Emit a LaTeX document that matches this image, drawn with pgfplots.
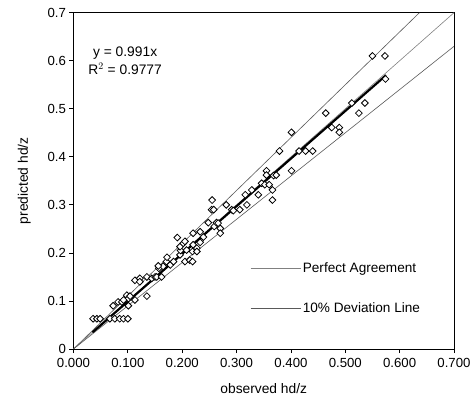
\documentclass[border=0pt]{standalone}
\usepackage{pgfplots}
\pgfplotsset{compat=1.18}
\usepackage{fontspec}
\setmainfont{Liberation Sans}
\begin{document}
\begin{tikzpicture}
\begin{axis}[
  at={(0,0)}, anchor=south west,
  scale only axis, width=380.5bp, height=336.3bp,
  xmin=0, xmax=0.7, ymin=0, ymax=0.7,
  xtick={0,0.1,...,0.7}, ytick={0,0.1,...,0.7},
  xticklabels={0.000,0.100,0.200,0.300,0.400,0.500,0.600,0.700},
  yticklabels={0,0.1,0.2,0.3,0.4,0.5,0.6,0.7},
  tick align=outside, xtick pos=bottom, ytick pos=left,
  major tick length=4bp,
  tick style={black, line width=0.8bp},
  axis line style={black, line width=0.8bp},
  tick label style={font=\fontsize{13.2bp}{15bp}\selectfont},
  xticklabel style={yshift=-2bp},
  label style={font=\fontsize{13.8bp}{16bp}\selectfont},
  xlabel={observed hd/z}, ylabel={predicted hd/z},
  xlabel style={yshift=-9bp},
  ylabel style={yshift=10bp},
  legend style={at={(0.464,0.181)}, anchor=west, draw=none, fill=none,
    inner sep=0pt, row sep=25bp, font=\fontsize{13.6bp}{15bp}\selectfont},
  legend cell align=left,
  legend image code/.code={\draw[#1] (0bp,0bp) -- (50bp,0bp);},
]
\addplot[gray, line width=0.6bp] coordinates {(0,0) (0.7,0.7)};
\addlegendentry{Perfect Agreement}
\addplot[black!65, line width=0.6bp] coordinates {(0,0) (0.63636,0.7)};
\addlegendentry{10\% Deviation Line}
\addplot[black!65, line width=0.6bp, forget plot] coordinates {(0,0) (0.7,0.63)};
\addplot[only marks, mark=square*, mark size=2.4bp,
  mark options={rotate=45, fill=white, draw=black, line width=0.8bp}, forget plot]
  coordinates {
(0.036,0.063)(0.043,0.063)(0.049,0.063)(0.067,0.063)(0.076,0.063)(0.085,0.063)(0.092,0.063)(0.100,0.063)
(0.073,0.090)(0.082,0.098)(0.089,0.098)(0.098,0.112)(0.101,0.105)(0.101,0.090)(0.113,0.102)(0.104,0.110)(0.092,0.102)(0.135,0.110)
(0.113,0.143)(0.122,0.147)(0.122,0.140)(0.135,0.150)(0.144,0.147)(0.150,0.150)(0.153,0.150)(0.162,0.150)(0.157,0.168)(0.165,0.172)
(0.156,0.173)(0.171,0.182)(0.172,0.191)(0.178,0.175)(0.184,0.182)(0.191,0.232)(0.196,0.196)(0.197,0.205)(0.196,0.213)
(0.202,0.220)(0.205,0.224)(0.205,0.182)(0.208,0.206)(0.214,0.185)(0.219,0.182)(0.219,0.203)(0.220,0.241)(0.220,0.217)
(0.227,0.210)(0.227,0.203)(0.233,0.244)(0.233,0.222)(0.239,0.233)(0.248,0.263)(0.255,0.310)(0.254,0.290)(0.258,0.290)
(0.259,0.255)(0.263,0.263)(0.270,0.251)(0.270,0.241)(0.266,0.262)
(0.281,0.300)(0.291,0.290)(0.294,0.288)(0.306,0.290)(0.319,0.300)(0.316,0.321)(0.328,0.331)(0.340,0.321)
(0.346,0.345)(0.352,0.342)(0.355,0.371)(0.355,0.362)(0.360,0.342)(0.366,0.331)(0.366,0.310)(0.368,0.361)(0.373,0.362)
(0.379,0.412)(0.401,0.451)(0.401,0.371)(0.415,0.412)(0.427,0.412)(0.440,0.412)
(0.464,0.491)(0.475,0.461)(0.489,0.461)(0.489,0.451)(0.512,0.512)(0.536,0.512)(0.525,0.491)
(0.550,0.610)(0.573,0.610)(0.574,0.562)
  };
\addplot[black, line width=2.2bp, forget plot] coordinates {(0.035,0.0347) (0.575,0.5698)};
\node[align=center, font=\fontsize{13.8bp}{17.5bp}\selectfont] at (axis cs:0.095,0.600)
  {y = 0.991x\\R$^{2}$ = 0.9777};
\end{axis}
\path (-73.5bp,-57bp) rectangle (401.5bp,349bp);
\end{tikzpicture}
\end{document}
